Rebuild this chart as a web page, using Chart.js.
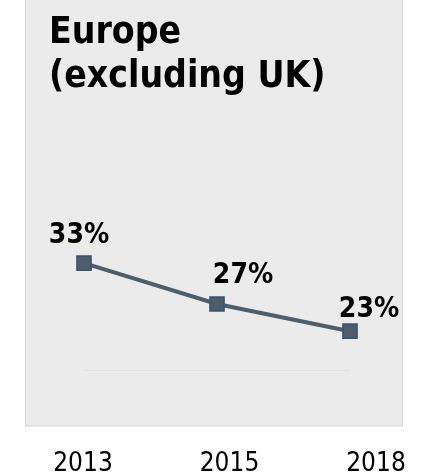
<!DOCTYPE html>
<html>
<head>
<meta charset="utf-8">
<script src="https://cdn.jsdelivr.net/npm/chart.js@4.4.0/dist/chart.umd.min.js"></script>
<style>
  html, body { margin: 0; padding: 0; background: #fff; }
  #wrap { width: 421px; height: 473px; }
</style>
</head>
<body>
<div id="wrap"><canvas id="chart" width="421" height="473"></canvas></div>
<script>
const years = ['2013', '2015', '2018'];
const shares = [33, 27, 23];
const titleLines = ['Europe', '(excluding UK)'];

const FONT = "'DejaVu Sans Condensed', 'DejaVu Sans', sans-serif";

// grey card behind the title and plot, plus the faint baseline under the line
const panelPlugin = {
    id: 'panel',
    beforeDraw(chart) {
        const { ctx, chartArea, scales } = chart;
        ctx.save();
        ctx.fillStyle = '#ebebeb';
        ctx.fillRect(25, -2, 378, 428);
        ctx.strokeStyle = '#d3d3d3';
        ctx.lineWidth = 1;
        ctx.strokeRect(25.5, -2, 377, 428);
        const x0 = scales.x.getPixelForValue(0);
        const x1 = scales.x.getPixelForValue(years.length - 1);
        ctx.strokeStyle = '#e2e2e2';
        ctx.beginPath();
        ctx.moveTo(x0, Math.round(chartArea.bottom) + 0.5);
        ctx.lineTo(x1, Math.round(chartArea.bottom) + 0.5);
        ctx.stroke();
        ctx.restore();
    }
};

// percentage labels, nudged off each marker
const valueLabels = {
    id: 'valueLabels',
    afterDatasetsDraw(chart, args, opts) {
        const { ctx } = chart;
        const pts = chart.getDatasetMeta(0).data;
        ctx.save();
        ctx.font = 'bold 28px ' + FONT;
        ctx.fillStyle = '#000';
        ctx.textAlign = 'center';
        ctx.textBaseline = 'alphabetic';
        pts.forEach((p, i) => {
            const off = opts.offsets[i];
            ctx.fillText(shares[i] + '%', p.x + off[0], p.y + off[1]);
        });
        ctx.restore();
    }
};

new Chart(document.getElementById('chart'), {
    type: 'line',
    data: {
        datasets: [{
            data: shares.map((v, i) => ({ x: i, y: v })),
            borderColor: '#4e5e6b',
            borderWidth: 4,
            pointStyle: 'rect',
            pointRadius: 10,
            pointBackgroundColor: '#4e5d6c',
            pointBorderColor: '#3b5174',
            pointBorderWidth: 1.5,
            tension: 0,
        }]
    },
    options: {
        responsive: false, animation: false,
        layout: { padding: { left: 49, right: 18, top: 0, bottom: 0 } },
        plugins: {
            legend: { display: false },
            tooltip: { enabled: false },
            title: {
                display: true, text: titleLines, align: 'start', color: '#000',
                font: { family: FONT, size: 37, weight: 'bold', lineHeight: 1.2 },
                padding: { top: 11, bottom: 100 }
            },
            valueLabels: { offsets: [[-5, -20], [26, -21], [19, -14]] }
        },
        scales: {
            x: { type: 'linear', display: false, min: -0.2632, max: 2.3985 },
            yr: {
                type: 'linear', position: 'bottom', min: -0.2321, max: 2.1843,
                grid: { display: false, drawTicks: false }, border: { display: false },
                ticks: {
                    stepSize: 1, includeBounds: false, autoSkip: false, maxRotation: 0,
                    padding: 79, color: '#000',
                    font: { family: FONT, size: 26, lineHeight: 1.2 },
                    callback: v => Number.isInteger(v) ? years[v] : ''
                },
                afterFit: s => { s.height = 103; s.paddingLeft = 0; s.paddingRight = 0; }
            },
            y: { display: false, min: 17.3, max: 42.3 }
        }
    },
    plugins: [panelPlugin, valueLabels]
});
</script>
</body>
</html>
